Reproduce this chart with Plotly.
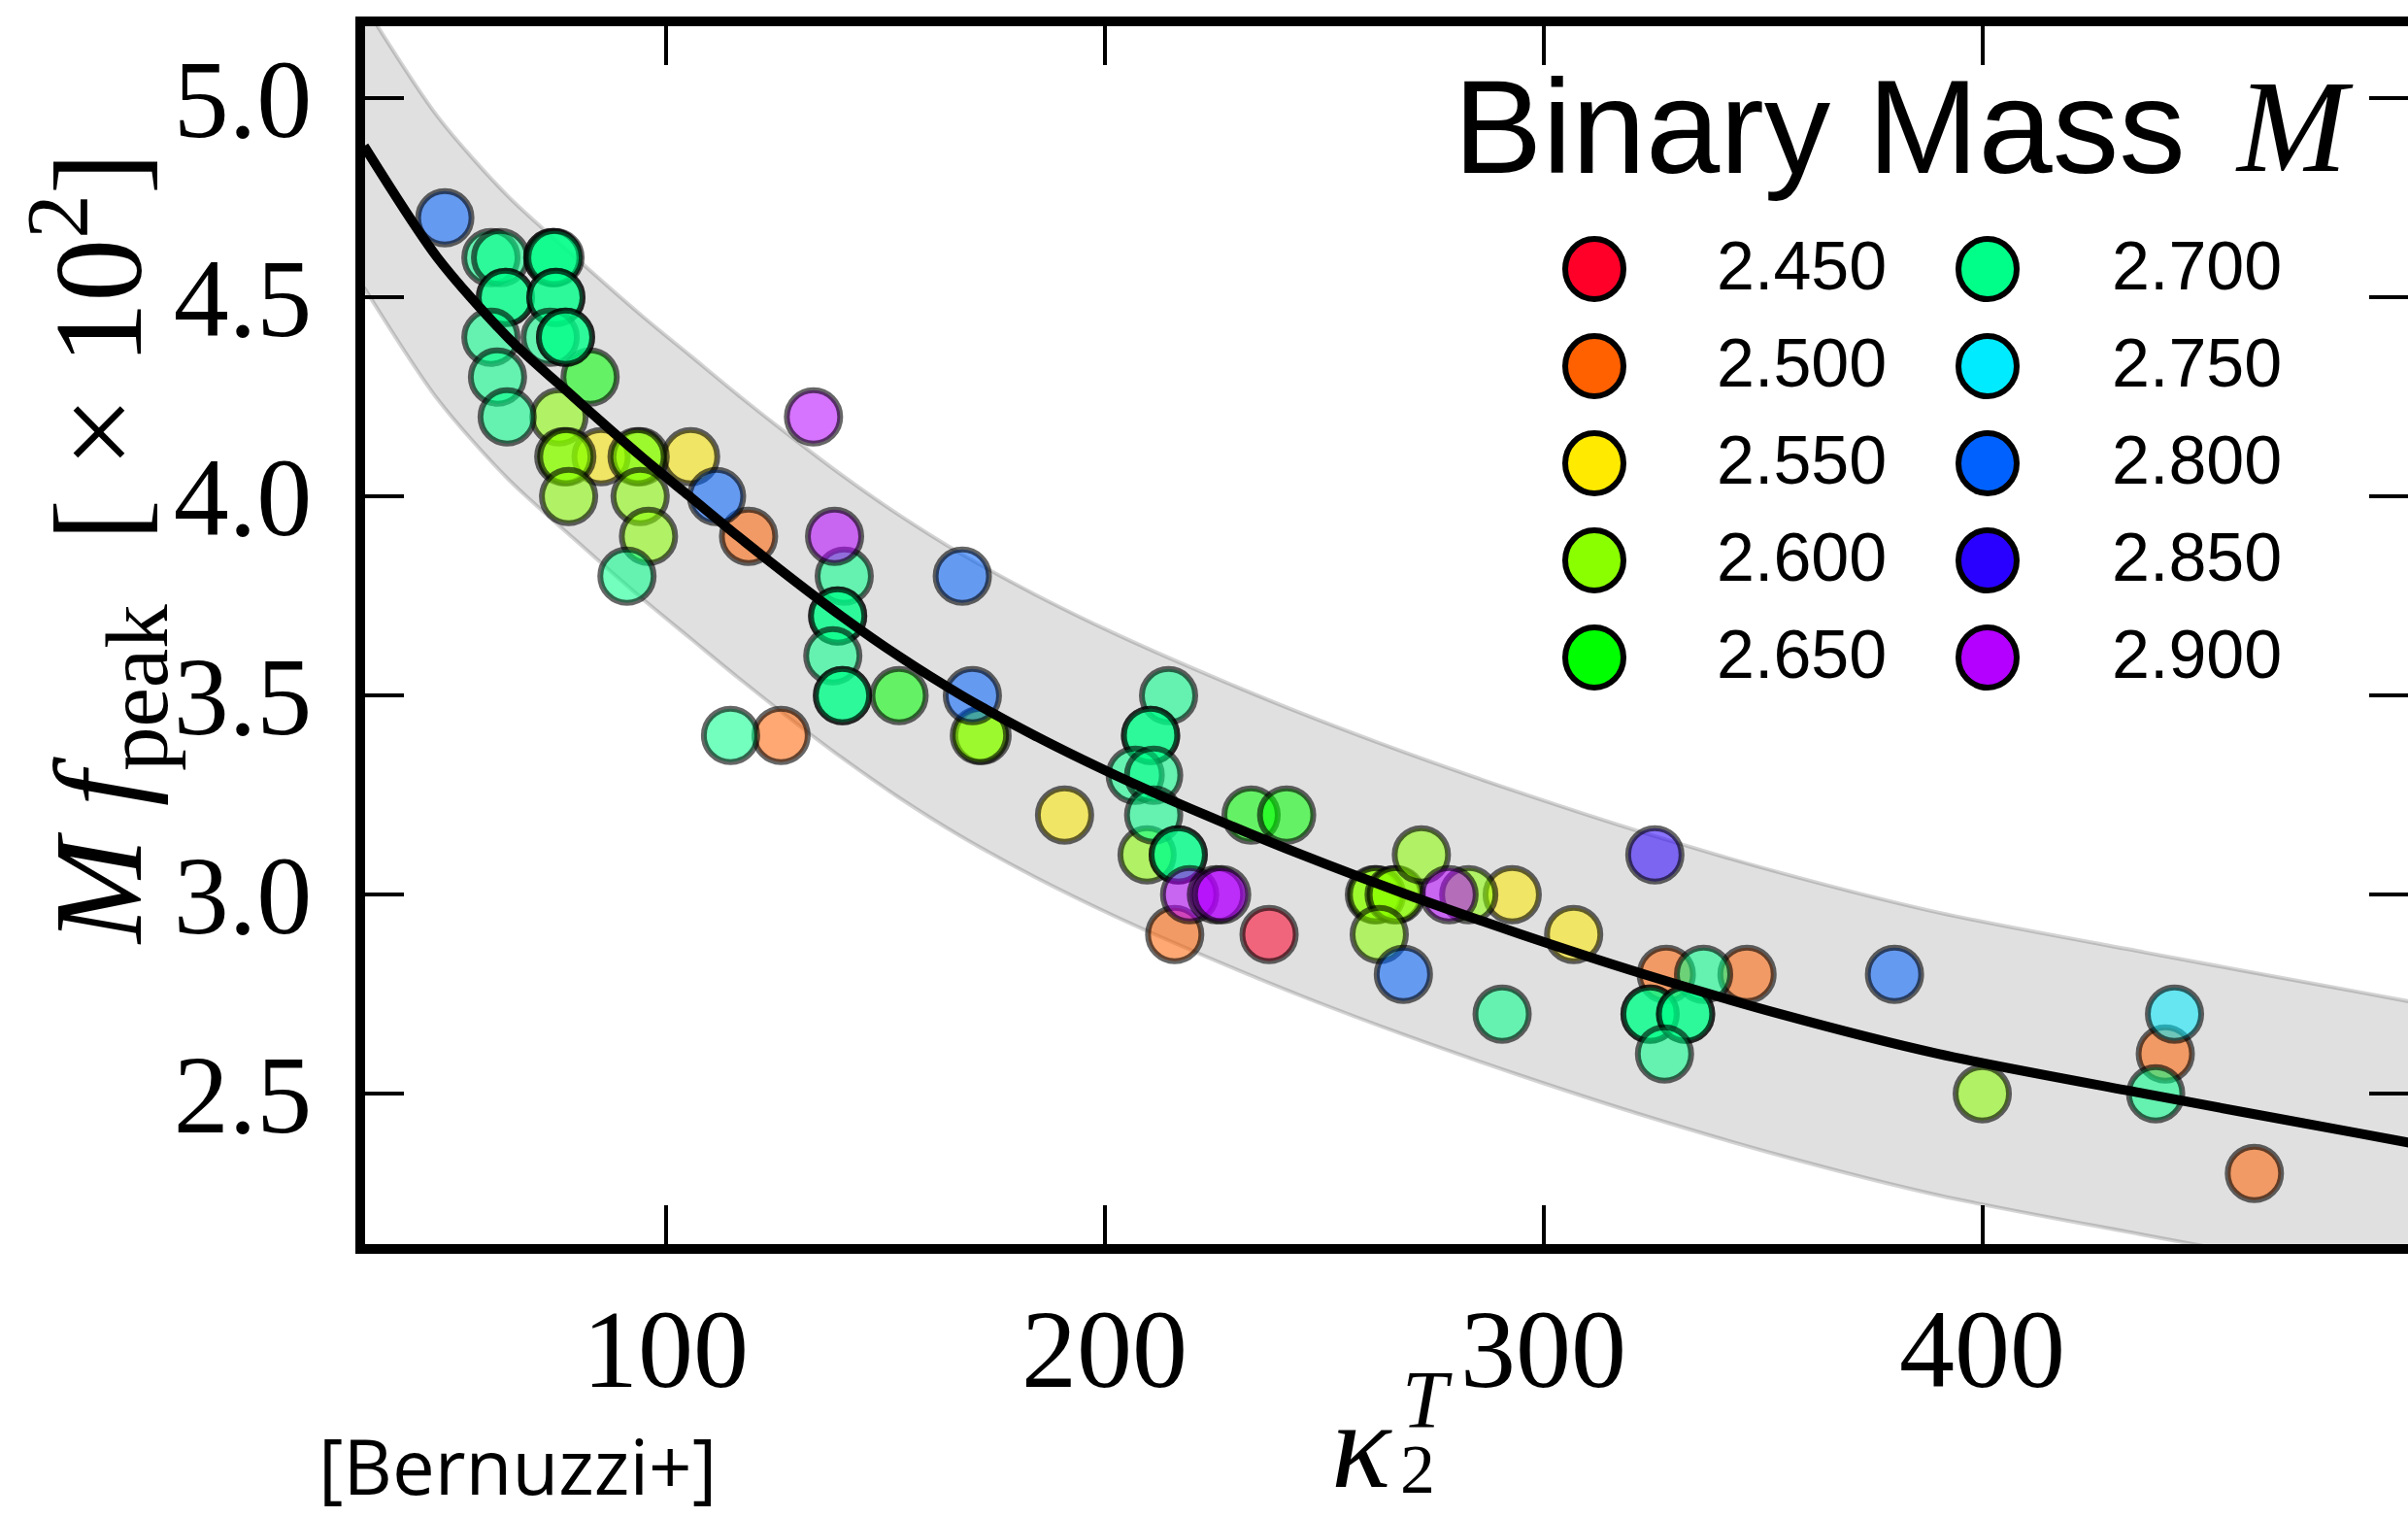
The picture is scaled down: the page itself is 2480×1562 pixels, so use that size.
import plotly.graph_objects as go

# ---------------- data ----------------
masses = ["2.450", "2.500", "2.550", "2.600", "2.650",
          "2.700", "2.750", "2.800", "2.850", "2.900"]
colors = ["#FF0029", "#FF6000", "#FFEA00", "#8AFF00", "#00FF00",
          "#00FF89", "#00EBFF", "#0061FF", "#2900FF", "#B400FF"]

kappa_2450 = [237.5]
fpk_2450 = [2.9]

kappa_2500 = [118.9, 126.3, 216.0, 328.0, 346.4, 441.7, 462.0]
fpk_2500 = [3.9, 3.4, 2.9, 2.8, 2.8, 2.6, 2.3]

kappa_2550 = [85.3, 105.7, 190.9, 292.9, 306.9]
fpk_2550 = [4.1, 4.1, 3.2, 3.0, 2.9]

kappa_2600 = [75.7, 76.8, 77.5, 94.2, 93.5, 77.9, 94.2, 96.1, 172.1, 171.5,
              209.7, 261.5, 262.0, 266.0, 266.5, 272.2, 262.6, 283.0, 400.0]
fpk_2600 = [4.2, 4.1, 4.1, 4.1, 4.1, 4.0, 4.0, 3.9, 3.4, 3.4,
            3.1, 3.0, 3.0, 3.0, 3.0, 3.1, 2.9, 3.0, 2.5]

kappa_2650 = [82.8, 153.2, 233.4, 241.5]
fpk_2650 = [4.3, 3.5, 3.2, 3.2]

kappa_2700 = [60.2, 62.4, 74.3, 74.3, 74.8, 63.5, 63.5, 75.0, 75.0, 60.2,
              73.7, 77.2, 77.2, 61.7, 63.9, 91.2, 140.7, 139.2, 139.2, 138.1,
              140.3, 140.3, 114.8, 214.6, 210.5, 210.5, 207.0, 211.2, 211.2,
              216.8, 216.8, 290.6, 336.5, 324.3, 324.3, 332.4, 332.4, 327.6,
              439.5]
fpk_2700 = [4.6, 4.6, 4.6, 4.6, 4.6, 4.5, 4.5, 4.5, 4.5, 4.4,
            4.4, 4.4, 4.4, 4.3, 4.2, 3.8, 3.8, 3.7, 3.7, 3.6,
            3.5, 3.5, 3.4, 3.5, 3.4, 3.4, 3.3, 3.3, 3.2,
            3.1, 3.1, 2.7, 2.8, 2.7, 2.7, 2.7, 2.7, 2.6,
            2.5]

kappa_2750 = [443.8]
fpk_2750 = [2.7]

kappa_2800 = [49.7, 111.6, 167.6, 169.9, 268.1, 380.0]
fpk_2800 = [4.7, 4.0, 3.8, 3.5, 2.8, 2.8]

kappa_2850 = [325.4]
fpk_2850 = [3.1]

kappa_2900 = [133.7, 138.5, 219.4, 225.5, 226.7, 278.5]
fpk_2900 = [4.2, 3.9, 3.0, 3.0, 3.0, 3.0]

groups_kappa = [kappa_2450, kappa_2500, kappa_2550, kappa_2600, kappa_2650,
                kappa_2700, kappa_2750, kappa_2800, kappa_2850, kappa_2900]
groups_fpk = [fpk_2450, fpk_2500, fpk_2550, fpk_2600, fpk_2650,
              fpk_2700, fpk_2750, fpk_2800, fpk_2850, fpk_2900]

# fit curve and its band
fit_kappa = [31.3, 48.0, 64.0, 79.0, 94.5, 105.5, 116.5, 128.0, 140.0, 153.0,
             167.5, 184.0, 202.5, 223.0, 245.0, 269.0, 295.0, 323.0, 354.0,
             390.0, 437.0, 486.0, 497.2]
fit_fpk = [4.88, 4.60, 4.40, 4.25, 4.10, 4.00, 3.90, 3.80, 3.70, 3.60,
           3.50, 3.40, 3.30, 3.20, 3.10, 3.00, 2.90, 2.80, 2.70,
           2.60, 2.50, 2.40, 2.377]
band_upper = [5.235, 4.955, 4.755, 4.605, 4.455, 4.355, 4.255, 4.155, 4.055, 3.955,
              3.855, 3.755, 3.655, 3.555, 3.455, 3.355, 3.255, 3.155, 3.055,
              2.955, 2.855, 2.755, 2.732]
band_lower = [4.525, 4.245, 4.045, 3.895, 3.745, 3.645, 3.545, 3.445, 3.345, 3.245,
              3.145, 3.045, 2.945, 2.845, 2.745, 2.645, 2.545, 2.445, 2.345,
              2.245, 2.145, 2.045, 2.022]

x_ticks = [100, 200, 300, 400]
y_ticks = [2.5, 3.0, 3.5, 4.0, 4.5, 5.0]
x_range = [31.53, 497.0]
y_range = [2.1224, 5.181]

# ---------------- geometry helpers (layout only) ----------------
FIG_W, FIG_H = 2480, 1562
L, R, T, B = 376, 2480, 27, 1281


def px(X):
    return (X - L) / (R - L)


def py(Y):
    return (B - Y) / (B - T)


def rgba(hex_color, a):
    h = hex_color.lstrip("#")
    r, g, b = int(h[0:2], 16), int(h[2:4], 16), int(h[4:6], 16)
    return f"rgba({r},{g},{b},{a})"


fig = go.Figure()

# band
fig.add_trace(go.Scatter(
    x=fit_kappa, y=band_lower, mode="lines",
    line=dict(color="rgba(0,0,0,0.17)", width=4, shape="spline", smoothing=0.8),
    hoverinfo="skip", showlegend=False))
fig.add_trace(go.Scatter(
    x=fit_kappa, y=band_upper, mode="lines", fill="tonexty",
    fillcolor="rgba(0,0,0,0.12)",
    line=dict(color="rgba(0,0,0,0.17)", width=4, shape="spline", smoothing=0.8),
    hoverinfo="skip", showlegend=False))

# data points
for m, c, kx, fy in zip(masses, colors, groups_kappa, groups_fpk):
    fig.add_trace(go.Scatter(
        x=kx, y=fy, mode="markers", name=m,
        marker=dict(size=55, color=rgba(c, 0.55),
                    line=dict(color="rgba(0,0,0,0.6)", width=6)),
        showlegend=False))

# fit line (on overlay axis which also carries the right-hand ticks)
fig.add_trace(go.Scatter(
    x=fit_kappa, y=fit_fpk, mode="lines", yaxis="y2",
    line=dict(color="black", width=10, shape="spline", smoothing=0.8),
    hoverinfo="skip", showlegend=False))

tick_font = dict(family="Liberation Serif", size=114, color="black")

fig.update_layout(
    width=FIG_W, height=FIG_H,
    margin=dict(l=L, r=FIG_W - R, t=T, b=FIG_H - B, autoexpand=False),
    paper_bgcolor="white", plot_bgcolor="white",
    showlegend=False,
    xaxis=dict(range=x_range, tickvals=x_ticks, ticktext=[str(v) for v in x_ticks],
               ticks="inside", ticklen=40, tickwidth=4, tickcolor="black",
               showline=True, linewidth=10, linecolor="black", mirror="ticks",
               showgrid=False, zeroline=False, tickfont=tick_font,
               ticklabelstandoff=0),
    yaxis=dict(range=y_range, tickvals=y_ticks, ticktext=[f"{v:.1f}" for v in y_ticks],
               ticks="inside", ticklen=40, tickwidth=4, tickcolor="black",
               showline=True, linewidth=10, linecolor="black", mirror=False,
               showgrid=False, zeroline=False, tickfont=tick_font,
               ticklabelstandoff=22),
    yaxis2=dict(range=y_range, tickvals=y_ticks, overlaying="y", side="right",
                anchor="x", ticks="inside", ticklen=40, tickwidth=4,
                tickcolor="black", showticklabels=False, showline=False,
                showgrid=False, zeroline=False),
)

annotations = []
shapes = []

# y-axis title
annotations.append(dict(
    text="<i>M f</i><sub>peak</sub>  [ × 10<sup>2</sup>]",
    x=px(100), y=py(565), xref="paper", yref="paper",
    xanchor="center", yanchor="middle", textangle=-90, showarrow=False,
    font=dict(family="Liberation Serif", size=130, color="black")))

# x-axis title  kappa_2^T
annotations.append(dict(
    text="<i>κ</i>", x=px(1402), y=py(1488), xref="paper", yref="paper",
    xanchor="center", yanchor="middle", showarrow=False,
    font=dict(family="Liberation Serif", size=128, color="black")))
annotations.append(dict(
    text="2", x=px(1460), y=py(1513), xref="paper", yref="paper",
    xanchor="center", yanchor="middle", showarrow=False,
    font=dict(family="Liberation Serif", size=72, color="black")))
annotations.append(dict(
    text="<i>T</i>", x=px(1470), y=py(1441), xref="paper", yref="paper",
    xanchor="center", yanchor="middle", showarrow=False,
    font=dict(family="Liberation Serif", size=84, color="black")))

# credit
annotations.append(dict(
    text="[Bernuzzi+]", x=px(533), y=py(1509), xref="paper", yref="paper",
    xanchor="center", yanchor="middle", showarrow=False,
    font=dict(family="Open Sans", size=78, color="black")))

# legend title
annotations.append(dict(
    text="Binary Mass", x=px(1495), y=py(130), xref="paper", yref="paper",
    xanchor="left", yanchor="middle", showarrow=False,
    font=dict(family="Liberation Sans", size=137, color="black")))
annotations.append(dict(
    text="<i>M</i>", x=px(2300), y=py(130), xref="paper", yref="paper",
    xanchor="left", yanchor="middle", showarrow=False,
    font=dict(family="Liberation Serif", size=136, color="black")))

# legend entries (two columns of five)
col_marker_x = [1642, 2047]
col_text_x = [1766, 2173]
row_y0, row_dy = 277, 100
for i, (m, c) in enumerate(zip(masses, colors)):
    col, row = divmod(i, 5)
    cy = row_y0 + row * row_dy
    shapes.append(dict(
        type="circle", xref="paper", yref="paper",
        xsizemode="pixel", ysizemode="pixel",
        xanchor=px(col_marker_x[col]), yanchor=py(cy),
        x0=-30, x1=30, y0=-31, y1=31,
        fillcolor=c, line=dict(color="black", width=6), layer="above"))
    annotations.append(dict(
        text=m, x=px(col_text_x[col]), y=py(cy - 3), xref="paper", yref="paper",
        xanchor="left", yanchor="middle", showarrow=False,
        font=dict(family="Liberation Sans", size=70, color="black")))

fig.update_layout(annotations=annotations, shapes=shapes)

fig.write_html("out.html")
